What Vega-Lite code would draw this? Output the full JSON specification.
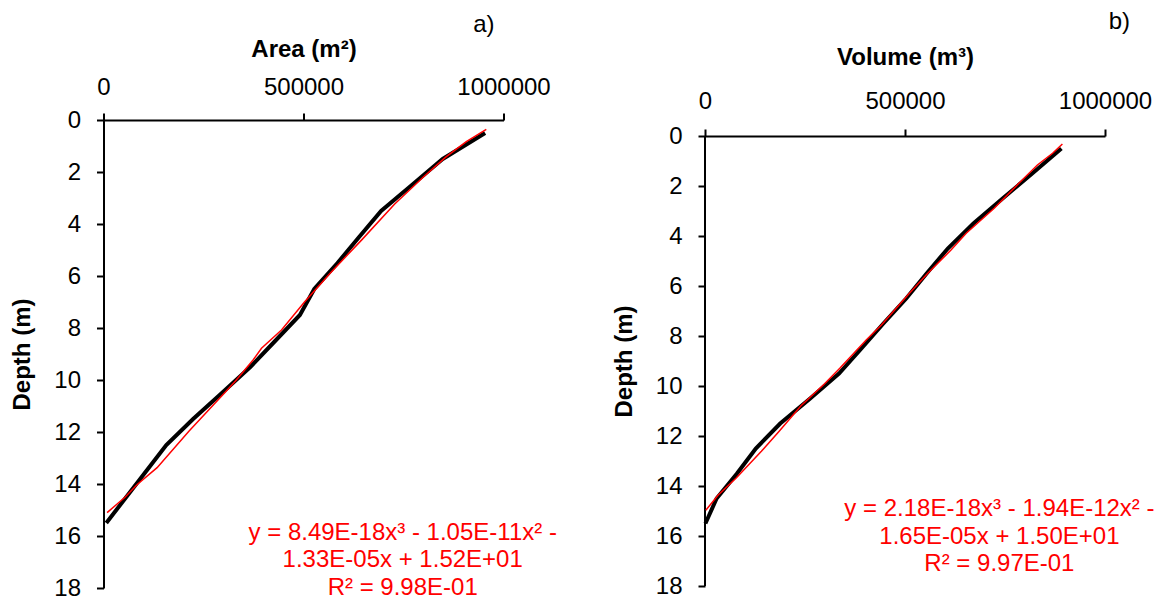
{
  "$schema": "https://vega.github.io/schema/vega-lite/v6.json",
  "padding": {"left": 10.5, "top": 10, "right": 5, "bottom": 0},
  "spacing": 54.5,
  "datasets": {
    "areaObs": [
      {"area": 954000, "depth": 0.5}, {"area": 848000, "depth": 1.5}, {"area": 771000, "depth": 2.5},
      {"area": 694000, "depth": 3.5}, {"area": 639000, "depth": 4.5}, {"area": 585000, "depth": 5.5},
      {"area": 527000, "depth": 6.5}, {"area": 491000, "depth": 7.5}, {"area": 429000, "depth": 8.5},
      {"area": 367000, "depth": 9.5}, {"area": 296000, "depth": 10.5}, {"area": 224000, "depth": 11.5},
      {"area": 157000, "depth": 12.5}, {"area": 107000, "depth": 13.5}, {"area": 57000, "depth": 14.5},
      {"area": 7000, "depth": 15.5}
    ],
    "areaFit": [
      {"area": 957000, "depth": 0.36}, {"area": 907000, "depth": 0.83}, {"area": 857000, "depth": 1.41},
      {"area": 799000, "depth": 2.2}, {"area": 728000, "depth": 3.23}, {"area": 645000, "depth": 4.62},
      {"area": 566000, "depth": 5.9}, {"area": 503000, "depth": 6.99}, {"area": 445000, "depth": 8.08},
      {"area": 395000, "depth": 8.78}, {"area": 374000, "depth": 9.23}, {"area": 330000, "depth": 10.04},
      {"area": 303000, "depth": 10.49}, {"area": 214000, "depth": 11.96}, {"area": 134000, "depth": 13.37},
      {"area": 85000, "depth": 14.01}, {"area": 53000, "depth": 14.52}, {"area": 9000, "depth": 15.1}
    ],
    "volObs": [
      {"volume": 891000, "depth": 0.5}, {"volume": 818000, "depth": 1.5}, {"volume": 744000, "depth": 2.5},
      {"volume": 671000, "depth": 3.5}, {"volume": 607000, "depth": 4.5}, {"volume": 554000, "depth": 5.5},
      {"volume": 503000, "depth": 6.5}, {"volume": 446000, "depth": 7.5}, {"volume": 391000, "depth": 8.5},
      {"volume": 335000, "depth": 9.5}, {"volume": 263000, "depth": 10.5}, {"volume": 188000, "depth": 11.5},
      {"volume": 127000, "depth": 12.5}, {"volume": 80000, "depth": 13.5}, {"volume": 29000, "depth": 14.5},
      {"volume": 1000, "depth": 15.5}
    ],
    "volFit": [
      {"volume": 893500, "depth": 0.32}, {"volume": 869000, "depth": 0.69}, {"volume": 831000, "depth": 1.16},
      {"volume": 786000, "depth": 1.87}, {"volume": 723000, "depth": 2.89}, {"volume": 653000, "depth": 3.89},
      {"volume": 615000, "depth": 4.56}, {"volume": 557000, "depth": 5.49}, {"volume": 511000, "depth": 6.29},
      {"volume": 441000, "depth": 7.56}, {"volume": 403000, "depth": 8.16}, {"volume": 337000, "depth": 9.29},
      {"volume": 299000, "depth": 9.91}, {"volume": 240000, "depth": 10.79}, {"volume": 186000, "depth": 11.8},
      {"volume": 141000, "depth": 12.61}, {"volume": 78000, "depth": 13.68}, {"volume": 33000, "depth": 14.36},
      {"volume": 2000, "depth": 14.97}
    ]
  },
  "hconcat": [
    {
      "width": 400,
      "height": 468,
      "title": {"text": "a)", "dx": -9, "offset": 0},
      "encoding": {
        "x": {
          "type": "quantitative",
          "scale": {"domain": [0, 1000000], "nice": false},
          "axis": {"orient": "top", "title": "Area (m²)", "values": [0, 500000, 1000000], "format": "d", "labelPadding": 14, "titlePadding": 14}
        },
        "y": {
          "type": "quantitative",
          "scale": {"domain": [0, 18], "reverse": true, "nice": false},
          "axis": {"title": "Depth (m)", "values": [0, 2, 4, 6, 8, 10, 12, 14, 16, 18], "labelPadding": 16, "titlePadding": 19}
        }
      },
      "layer": [
        {
          "data": {"name": "areaObs"},
          "mark": {"type": "line", "color": "black", "strokeWidth": 4},
          "encoding": {
            "x": {"field": "area"},
            "y": {"field": "depth"},
            "order": {"field": "depth", "type": "quantitative"}
          }
        },
        {
          "data": {"name": "areaFit"},
          "mark": {"type": "line", "color": "#ff0000", "strokeWidth": 1.5},
          "encoding": {
            "x": {"field": "area"},
            "y": {"field": "depth"},
            "order": {"field": "depth", "type": "quantitative"}
          }
        },
        {
          "data": {"values": [{}]},
          "mark": {
            "type": "text",
            "text": ["y = 8.49E-18x³ - 1.05E-11x² -", "1.33E-05x + 1.52E+01", "R² = 9.98E-01"],
            "align": "center",
            "baseline": "middle",
            "lineHeight": 27.5,
            "font": "Liberation Sans",
            "fontSize": 24,
            "color": "#ff0000"
          },
          "encoding": {
            "x": {"datum": 748000},
            "y": {"datum": 15.88}
          }
        }
      ]
    },
    {
      "width": 400,
      "height": 466,
      "title": {"text": "b)", "dx": 25, "offset": 11},
      "encoding": {
        "x": {
          "type": "quantitative",
          "scale": {"domain": [0, 1000000], "nice": false},
          "axis": {"orient": "top", "offset": -16, "title": "Volume (m³)", "values": [0, 500000, 1000000], "format": "d", "labelPadding": 16, "titlePadding": 20}
        },
        "y": {
          "type": "quantitative",
          "scale": {"domain": [-0.64, 18], "reverse": true, "nice": false},
          "axis": {"title": "Depth (m)", "domain": false, "values": [0, 2, 4, 6, 8, 10, 12, 14, 16, 18], "labelPadding": 16, "titlePadding": 19, "titleY": 241}
        }
      },
      "layer": [
        {
          "data": {"values": [{}]},
          "mark": {"type": "rule", "color": "black", "strokeWidth": 2},
          "encoding": {
            "x": {"datum": 0},
            "y": {"datum": 0},
            "y2": {"datum": 18}
          }
        },
        {
          "data": {"name": "volObs"},
          "mark": {"type": "line", "color": "black", "strokeWidth": 4},
          "encoding": {
            "x": {"field": "volume"},
            "y": {"field": "depth"},
            "order": {"field": "depth", "type": "quantitative"}
          }
        },
        {
          "data": {"name": "volFit"},
          "mark": {"type": "line", "color": "#ff0000", "strokeWidth": 1.5},
          "encoding": {
            "x": {"field": "volume"},
            "y": {"field": "depth"},
            "order": {"field": "depth", "type": "quantitative"}
          }
        },
        {
          "data": {"values": [{}]},
          "mark": {
            "type": "text",
            "text": ["y = 2.18E-18x³ - 1.94E-12x² -", "1.65E-05x + 1.50E+01", "R² = 9.97E-01"],
            "align": "center",
            "baseline": "middle",
            "lineHeight": 27.5,
            "font": "Liberation Sans",
            "fontSize": 24,
            "color": "#ff0000"
          },
          "encoding": {
            "x": {"datum": 736000},
            "y": {"datum": 14.92}
          }
        }
      ]
    }
  ],
  "config": {
    "view": {"stroke": null},
    "axis": {
      "grid": false,
      "labelFont": "Liberation Sans",
      "labelFontSize": 24,
      "labelColor": "black",
      "titleFont": "Liberation Sans",
      "titleFontSize": 24,
      "titleFontWeight": "bold",
      "titleColor": "black",
      "domainColor": "black",
      "domainWidth": 2,
      "tickColor": "black",
      "tickWidth": 2,
      "tickSize": 7,
      "labelOverlap": false,
      "labelFlush": false
    },
    "title": {
      "font": "Liberation Sans",
      "fontSize": 24,
      "fontWeight": "normal",
      "color": "black",
      "anchor": "end",
      "frame": "group"
    }
  }
}
